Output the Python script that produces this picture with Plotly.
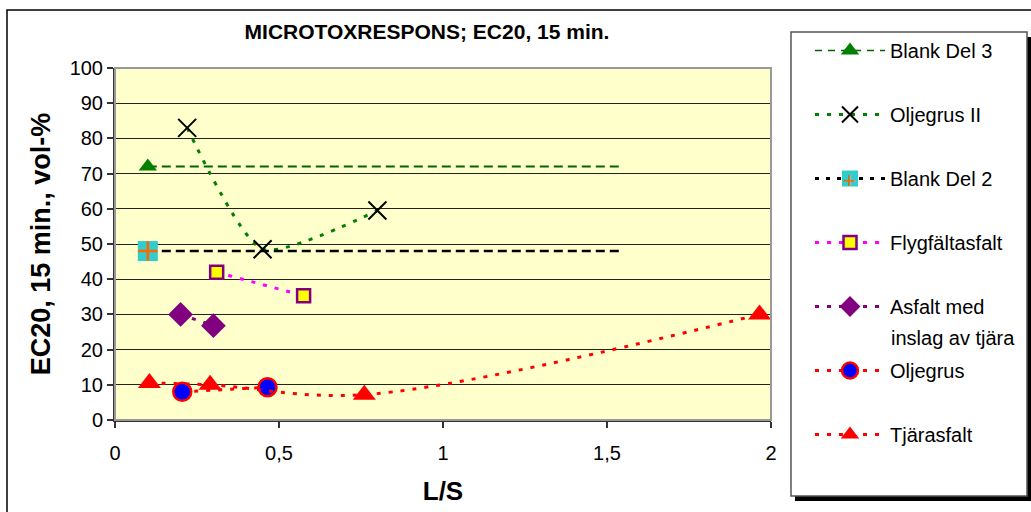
import plotly.graph_objects as go

# ---- data ----
blank3_x = [0.1, 1.55]
blank3_y = [72, 72]
olj2_x = [0.22, 0.45, 0.8]
olj2_y = [83, 48.5, 59.5]
blank2_x = [0.1, 1.55]
blank2_y = [48, 48]
flyg_x = [0.31, 0.575]
flyg_y = [42, 35.3]
asf_x = [0.2, 0.3]
asf_y = [30, 26.8]
olj_x = [0.205, 0.465]
olj_y = [8, 9.3]
tjar_x = [0.105, 0.29, 0.76, 1.965]
tjar_y = [10.5, 10, 7.2, 30]

x_tickvals = [0, 0.5, 1, 1.5, 2]
x_ticktext = ["0", "0,5", "1", "1,5", "2"]
y_tickvals = list(range(0, 101, 10))

W, H = 1031, 512
L, R, T, B = 115, 260, 68, 92
PW, PH = W - L - R, H - T - B


def px2x(p):
    return (p - L) / PW


def px2y(p):
    return (H - B - p) / PH


FONT = "Liberation Sans, Arial, sans-serif"

fig = go.Figure()

# Blank Del 3
fig.add_trace(go.Scatter(x=blank3_x, y=blank3_y, mode="lines", legendgroup="g1", showlegend=False,
                         line=dict(color="#006400", width=2, dash="9px,5px"), hoverinfo="skip"))
fig.add_trace(go.Scatter(x=blank3_x[:1], y=blank3_y[:1], mode="lines+markers", name="Blank Del 3", legendgroup="g1",
                         line=dict(color="#006400", width=1.5, dash="7px,6px"),
                         marker=dict(symbol="triangle-up", size=16, color="#008000")))

# Oljegrus II
fig.add_trace(go.Scatter(x=olj2_x, y=olj2_y, mode="lines+markers", name="Oljegrus II", legendgroup="g2",
                         line=dict(color="#008000", width=3, dash="4px,8px", shape="spline", smoothing=0.6),
                         marker=dict(symbol="x-thin-open", size=18, color="black", line=dict(color="black", width=2))))

# Blank Del 2
fig.add_trace(go.Scatter(x=blank2_x, y=blank2_y, mode="lines", legendgroup="g3", showlegend=False,
                         line=dict(color="#000000", width=2.5, dash="9px,5px"), hoverinfo="skip"))
fig.add_trace(go.Scatter(x=blank2_x[:1], y=blank2_y[:1], mode="lines+markers", name="Blank Del 2", legendgroup="g3",
                         line=dict(color="#000000", width=3, dash="4px,7px"),
                         marker=dict(symbol="square", size=20, color="#33CCCC")))
fig.add_trace(go.Scatter(x=blank2_x[:1], y=blank2_y[:1], mode="markers", legendgroup="g3", showlegend=False,
                         marker=dict(symbol="cross-thin-open", size=14, color="#FF6600",
                                     line=dict(color="#FF6600", width=2.5)), hoverinfo="skip"))

# Flygfältasfalt
fig.add_trace(go.Scatter(x=flyg_x, y=flyg_y, mode="lines+markers", name="Flygfältasfalt", legendgroup="g4",
                         line=dict(color="#FF00FF", width=3, dash="4px,8px", shape="spline"),
                         marker=dict(symbol="square", size=13, color="#FFFF00", line=dict(color="#800080", width=2.5))))

# Asfalt med inslag av tjära
fig.add_trace(go.Scatter(x=asf_x, y=asf_y, mode="lines+markers", name="Asfalt med", legendgroup="g5",
                         line=dict(color="#800080", width=3, dash="4px,8px", shape="spline"),
                         marker=dict(symbol="diamond", size=19, color="#800080")))

# Oljegrus
fig.add_trace(go.Scatter(x=olj_x, y=olj_y, mode="lines+markers", name="Oljegrus", legendgroup="g6",
                         line=dict(color="#FF0000", width=3, dash="4px,8px", shape="spline"),
                         marker=dict(symbol="circle", size=18, color="#0000FF", line=dict(color="#FF0000", width=2.5))))

# Tjärasfalt
fig.add_trace(go.Scatter(x=tjar_x, y=tjar_y, mode="lines+markers", name="Tjärasfalt", legendgroup="g7",
                         line=dict(color="#FF0000", width=3, dash="4px,8px", shape="spline"),
                         marker=dict(symbol="triangle-up", size=20, color="#FF0000")))

shapes = [
    # outer chart border
    dict(type="rect", xref="paper", yref="paper", x0=px2x(7), x1=px2x(1040), y0=px2y(530), y1=px2y(10),
         line=dict(color="black", width=1.5), layer="below"),
    # legend shadow
    dict(type="rect", xref="paper", yref="paper", x0=px2x(795), x1=px2x(1031), y0=px2y(501), y1=px2y(37),
         line=dict(width=0), fillcolor="black", layer="below"),
    # legend box
    dict(type="rect", xref="paper", yref="paper", x0=px2x(791), x1=px2x(1027), y0=px2y(496), y1=px2y(32),
         line=dict(color="#555555", width=1.5), fillcolor="white", layer="below"),
    # plot area border (top/right gray)
    dict(type="rect", xref="paper", yref="paper", x0=0, x1=1, y0=0, y1=1,
         line=dict(color="#999999", width=2), layer="above"),
]

annotations = [
    # second line of the "Asfalt med inslag av tjära" legend entry
    dict(text="inslag av tjära", xref="paper", yref="paper", x=px2x(889), y=px2y(338),
         xanchor="left", yanchor="middle", showarrow=False, font=dict(size=20, family=FONT)),
    # orange cross of the Blank Del 2 legend symbol
    dict(text="+", xref="paper", yref="paper", x=px2x(849), y=px2y(180),
         xanchor="center", yanchor="middle", showarrow=False,
         font=dict(size=22, family=FONT, color="#FF6600")),
]

fig.update_layout(
    width=W, height=H,
    margin=dict(l=L, r=R, t=T, b=B, autoexpand=False),
    paper_bgcolor="white",
    plot_bgcolor="#FFFFCC",
    font=dict(family=FONT, color="black"),
    title=dict(text="<b>MICROTOXRESPONS; EC20, 15 min.</b>", x=px2x(427), xref="paper", xanchor="center",
               y=1 - 32 / H, yanchor="middle", font=dict(size=21, family=FONT)),
    showlegend=True,
    legend=dict(x=px2x(810), xanchor="left", y=px2y(31), yanchor="top",
                bgcolor="rgba(0,0,0,0)", borderwidth=0, maxheight=470,
                font=dict(size=20, family=FONT), traceorder="grouped", tracegroupgap=35,
                itemwidth=70, valign="top", itemsizing="trace"),
    shapes=shapes,
    annotations=annotations,
)

fig.update_xaxes(range=[0, 2], tickvals=x_tickvals, ticktext=x_ticktext,
                 showgrid=False, zeroline=False,
                 showline=True, linecolor="#333333", linewidth=2,
                 ticks="outside", ticklen=6, tickcolor="#333333", tickwidth=1.5,
                 ticklabelstandoff=8,
                 tickfont=dict(size=20, family=FONT),
                 title=dict(text="<b>L/S</b>", font=dict(size=26, family=FONT), standoff=19))
fig.update_yaxes(range=[0, 100], tickvals=y_tickvals,
                 showgrid=True, gridcolor="#222222", gridwidth=1, zeroline=False,
                 showline=True, linecolor="#333333", linewidth=2,
                 ticks="outside", ticklen=6, tickcolor="#333333", tickwidth=1.5,
                 tickfont=dict(size=20, family=FONT),
                 title=dict(text="<b>EC20, 15 min., vol-%</b>", font=dict(size=27, family=FONT), standoff=11))

fig.write_html("out.html", config={"displayModeBar": False},
               post_script="document.body.style.margin='0';")
